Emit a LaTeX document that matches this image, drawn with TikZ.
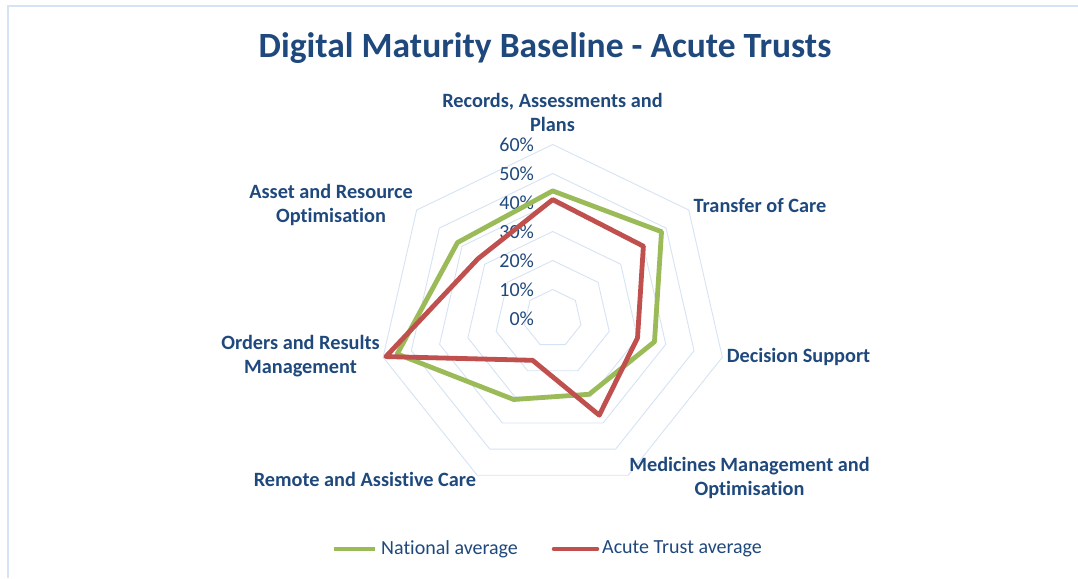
\documentclass[tikz,border=0pt]{standalone}
\usepackage{fontspec}
\setmainfont{Carlito}[Ligatures={NoCommon}]
\definecolor{txt}{RGB}{31,73,125}
\definecolor{gridc}{RGB}{214,227,244}
\definecolor{frame}{RGB}{214,227,244}
\definecolor{nat}{RGB}{155,187,89}
\definecolor{acu}{RGB}{192,80,77}
\tikzset{
  gridline/.style={draw=gridc, line width=0.9pt},
  series/.style={line width=4.8pt, line join=round},
  axlabel/.style={text=txt, font=\fontsize{20.3}{24}\selectfont\bfseries, align=center, inner sep=0pt},
  pct/.style={text=txt, font=\fontsize{20}{24}\selectfont, anchor=east, inner sep=0pt},
  legtext/.style={text=txt, font=\fontsize{20}{24}\selectfont, anchor=west, inner sep=0pt}
}
\begin{document}
\begin{tikzpicture}[x=1pt,y=1pt]
\useasboundingbox (0,-578) rectangle (1078,0);
\fill[white] (0,-578) rectangle (1078,0);
% frame
\draw[frame, line width=2pt] (8,-578) -- (8,-6) -- (1078,-6);
% title
\node[text=txt, font=\fontsize{35.5}{40}\selectfont\bfseries, inner sep=0pt] (title) at (545,-48) {Digital Maturity Baseline - Acute Trusts};
% radar
\begin{scope}[shift={(552.7,-318.5)}]
  \foreach \r in {1,...,6}{
    \draw[gridline] (90:29*\r) \foreach \j in {1,...,6}{ -- ({90-\j*360/7}:29*\r)} -- cycle;
  }
  \foreach \k/\lab in {0/0\%,1/10\%,2/20\%,3/30\%,4/40\%,5/50\%,6/60\%}{
    \node[pct] (p\k) at (-18.5,29*\k) {\lab};
  }
  \draw[series, nat] (90:44*2.9) -- ({90-360/7}:48*2.9) -- ({90-2*360/7}:36*2.9) -- ({90-3*360/7}:29*2.9) -- ({90-4*360/7}:31*2.9) -- ({90-5*360/7}:55*2.9) -- ({90-6*360/7}:42*2.9) -- cycle;
  \draw[series, acu] (90:41*2.9) -- ({90-360/7}:40*2.9) -- ({90-2*360/7}:30*2.9) -- ({90-3*360/7}:37*2.9) -- ({90-4*360/7}:16*2.9) -- ({90-5*360/7}:59*2.9) -- ({90-6*360/7}:33*2.9) -- cycle;
\end{scope}
% axis labels
\node[axlabel] (l1) at (552.5,-112) {Records, Assessments and\\Plans};
\node[axlabel] (l2) at (760,-206) {Transfer of Care};
\node[axlabel] (l3) at (798.5,-357) {Decision Support};
\node[axlabel] (l4) at (749.5,-478) {Medicines Management and\\Optimisation};
\node[axlabel] (l5) at (365,-479) {Remote and Assistive Care};
\node[axlabel] (l6) at (300.5,-356) {Orders and Results\\Management};
\node[axlabel] (l7) at (331,-205) {Asset and Resource\\Optimisation};
% legend
\coordinate (g1) at (334,-549); \coordinate (g2) at (375,-549);
\draw[nat, line width=4.6pt] (g1) -- (g2);
\node[legtext] (lg1) at (381,-549) {National average};
\coordinate (r1) at (554,-549); \coordinate (r2) at (597,-549);
\draw[acu, line width=4.6pt, line cap=round] (r1) -- (r2);
\node[legtext] (lg2) at (602,-549) {Acute Trust average};
\end{tikzpicture}
\end{document}
